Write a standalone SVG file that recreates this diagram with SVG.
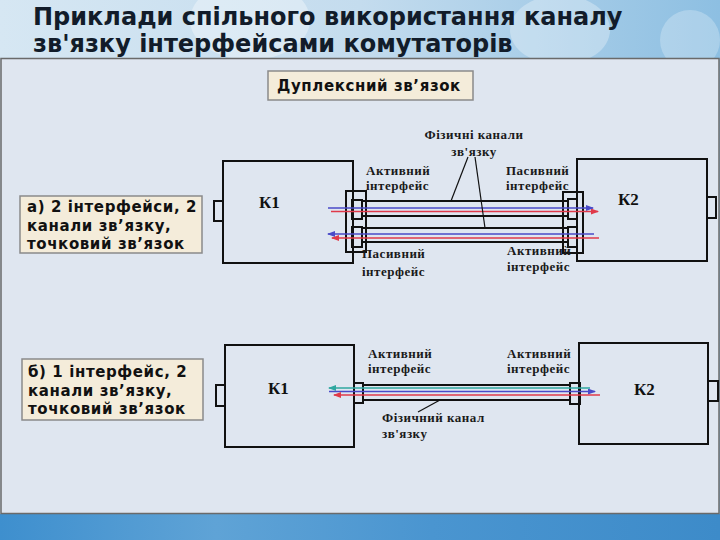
<svg xmlns="http://www.w3.org/2000/svg" width="720" height="540" viewBox="0 0 720 540">
<defs>
<linearGradient id="topbg" x1="0" y1="0" x2="1" y2="0">
<stop offset="0" stop-color="#d6e7f3"/>
<stop offset="0.5" stop-color="#c4dcee"/>
<stop offset="1" stop-color="#8dbfe2"/>
</linearGradient>
<linearGradient id="botbg" x1="0" y1="0" x2="1" y2="0">
<stop offset="0" stop-color="#3e8fce"/>
<stop offset="0.3" stop-color="#5fa3d6"/>
<stop offset="0.6" stop-color="#4a95d0"/>
<stop offset="1" stop-color="#3d8bc9"/>
</linearGradient>
<marker id="ab" viewBox="0 0 8 6" refX="7" refY="3" markerWidth="8" markerHeight="6" orient="auto" markerUnits="userSpaceOnUse"><path d="M0,0 L8,3 L0,6 Z" fill="#4a4ac8"/></marker>
<marker id="ar" viewBox="0 0 8 6" refX="7" refY="3" markerWidth="8" markerHeight="6" orient="auto" markerUnits="userSpaceOnUse"><path d="M0,0 L8,3 L0,6 Z" fill="#e03a4a"/></marker>
<marker id="at" viewBox="0 0 8 6" refX="7" refY="3" markerWidth="8" markerHeight="6" orient="auto" markerUnits="userSpaceOnUse"><path d="M0,0 L8,3 L0,6 Z" fill="#2fa7a0"/></marker>
</defs>
<style>
.title{font-family:"DejaVu Sans",Verdana,sans-serif;font-weight:bold;font-size:24px;fill:#121c2a}
.lbl{font-family:"DejaVu Sans",Verdana,sans-serif;font-weight:bold;font-size:15px;letter-spacing:0.6px;fill:#111}
.box{fill:#f4ecda;stroke:#8a8a8a;stroke-width:1.5}
.sw{fill:none;stroke:#111;stroke-width:2}
.st{font-family:"Liberation Serif","Times New Roman",serif;font-weight:bold;font-size:13px;letter-spacing:0.5px;fill:#1a1a1a}
.kt{font-family:"Liberation Serif","Times New Roman",serif;font-weight:bold;font-size:17px;fill:#111}
.wire{stroke:#111;stroke-width:2;fill:none}
.blue{stroke:#4a4ac8;stroke-width:1.5;fill:none}
.red{stroke:#e03a4a;stroke-width:1.5;fill:none}
.teal{stroke:#2fa7a0;stroke-width:1.5;fill:none}
.lead{stroke:#111;stroke-width:1.2;fill:none}
</style>
<rect x="0" y="0" width="720" height="540" fill="url(#topbg)"/>
<ellipse cx="250" cy="20" rx="60" ry="40" fill="#ffffff" opacity="0.35"/>
<ellipse cx="560" cy="30" rx="50" ry="35" fill="#ffffff" opacity="0.3"/>
<ellipse cx="690" cy="40" rx="30" ry="30" fill="#ffffff" opacity="0.25"/>
<rect x="0" y="514" width="720" height="26" fill="url(#botbg)"/>
<rect x="1" y="58.5" width="718" height="455" fill="#dfe6f0" stroke="#6a6a6a" stroke-width="1.5"/>

<g id="title">
<text class="title" x="33" y="25">Приклади спільного використання каналу</text>
<text class="title" x="33" y="52">зв'язку інтерфейсами комутаторів</text>
</g>

<g id="duplex-label">
<rect class="box" x="268" y="71" width="205" height="29"/>
<text class="lbl" x="277" y="91">Дуплексний зв’язок</text>
</g>

<g id="label-a">
<rect class="box" x="20" y="196" width="182" height="57"/>
<text class="lbl" x="27" y="212">а) 2 інтерфейси, 2</text>
<text class="lbl" x="27" y="231">канали зв’язку,</text>
<text class="lbl" x="27" y="249">точковий зв’язок</text>
</g>

<g id="label-b">
<rect class="box" x="22" y="359" width="181" height="61"/>
<text class="lbl" x="28" y="377">б) 1 інтерфейс, 2</text>
<text class="lbl" x="28" y="396">канали зв’язку,</text>
<text class="lbl" x="28" y="414">точковий зв’язок</text>
</g>

<g id="k1-a">
<rect class="sw" x="223" y="161" width="130" height="102"/>
<rect class="sw" x="214" y="201" width="9" height="20"/>
<text class="kt" x="259" y="208">К1</text>
<rect class="sw" x="346" y="191" width="20" height="61"/>
<rect class="sw" x="352" y="200" width="10" height="19"/>
<rect class="sw" x="352" y="227" width="10" height="20"/>
</g>

<g id="k2-a">
<rect class="sw" x="577" y="159" width="130" height="102"/>
<rect class="sw" x="707" y="197" width="9" height="21"/>
<text class="kt" x="618" y="205">К2</text>
<rect class="sw" x="563" y="192" width="20" height="61"/>
<rect class="sw" x="568" y="199" width="9" height="20"/>
<rect class="sw" x="568" y="227" width="9" height="20"/>
</g>

<g id="k1-b">
<rect class="sw" x="225" y="345" width="129" height="102"/>
<rect class="sw" x="216" y="385" width="9" height="21"/>
<text class="kt" x="268" y="394">К1</text>
<rect class="sw" x="354" y="383" width="9" height="20"/>
</g>

<g id="k2-b">
<rect class="sw" x="579" y="343" width="129" height="101"/>
<rect class="sw" x="708" y="381" width="10" height="20"/>
<text class="kt" x="634" y="395">К2</text>
<rect class="sw" x="570" y="383" width="10" height="21"/>
</g>

<g id="labels-a">
<text class="st" x="366" y="175">Активний</text>
<text class="st" x="366" y="190">інтерфейс</text>
<text class="st" x="506" y="175">Пасивний</text>
<text class="st" x="506" y="190">інтерфейс</text>
<text class="st" x="362" y="258">Пасивний</text>
<text class="st" x="362" y="276">інтерфейс</text>
<text class="st" x="507" y="255">Активний</text>
<text class="st" x="507" y="271">інтерфейс</text>
<text class="st" x="474" y="139" text-anchor="middle">Фізичні канали</text>
<text class="st" x="474" y="156" text-anchor="middle">зв'язку</text>
</g>

<g id="labels-b">
<text class="st" x="368" y="358">Активний</text>
<text class="st" x="368" y="373">інтерфейс</text>
<text class="st" x="507" y="358">Активний</text>
<text class="st" x="507" y="373">інтерфейс</text>
<text class="st" x="382" y="422">Фізичний канал</text>
<text class="st" x="382" y="438">зв'язку</text>
</g>

<g id="connectors">
<line class="wire" x1="362" y1="201" x2="568" y2="201"/>
<line class="wire" x1="362" y1="216" x2="568" y2="216"/>
<line class="wire" x1="362" y1="228" x2="568" y2="228"/>
<line class="wire" x1="362" y1="242" x2="568" y2="242"/>
<line class="blue" x1="328" y1="208" x2="593" y2="208" marker-end="url(#ab)"/>
<line class="red" x1="331" y1="211.5" x2="598" y2="211.5" marker-end="url(#ar)"/>
<line class="blue" x1="594" y1="234" x2="328" y2="234" marker-end="url(#ab)"/>
<line class="red" x1="599" y1="238" x2="332" y2="238" marker-end="url(#ar)"/>
<line class="lead" x1="468" y1="157" x2="451" y2="201"/>
<line class="lead" x1="475" y1="157" x2="485" y2="228"/>

<line class="wire" x1="363" y1="385" x2="570" y2="385"/>
<line class="wire" x1="363" y1="400" x2="570" y2="400"/>
<line class="teal" x1="590" y1="388" x2="329" y2="388" marker-end="url(#at)"/>
<line class="blue" x1="329" y1="391.5" x2="595" y2="391.5" marker-end="url(#ab)"/>
<line class="red" x1="600" y1="395" x2="334" y2="395" marker-end="url(#ar)"/>
<line class="lead" x1="440" y1="400" x2="418" y2="412"/>
</g>
</svg>
